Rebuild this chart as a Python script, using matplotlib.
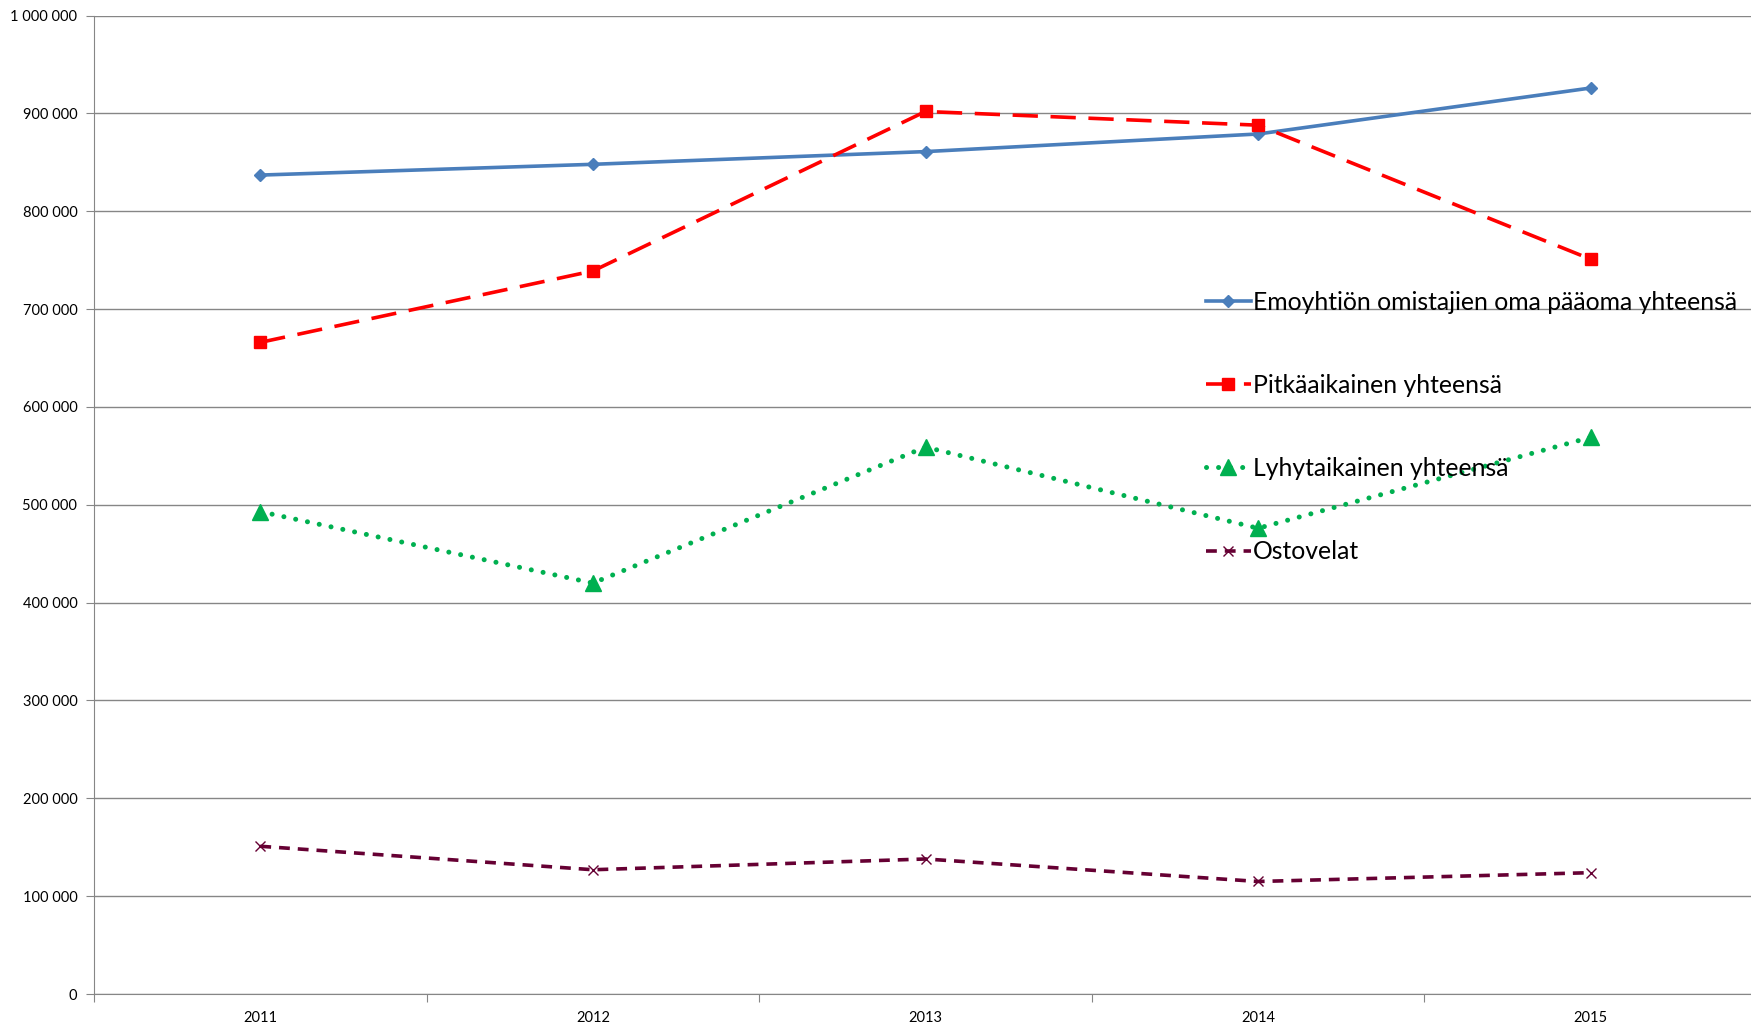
import numpy as np
import matplotlib.pyplot as plt
from matplotlib.ticker import FuncFormatter, FixedLocator

plt.rcParams['font.family'] = ['Lato', 'DejaVu Sans']

# data
years = ['2011', '2012', '2013', '2014', '2015']
emo = [837000, 848000, 861000, 879000, 926000]
pitka = [666000, 739000, 902000, 888000, 751000]
lyhyt = [493000, 420000, 559000, 476000, 569000]
osto = [151000, 127000, 138000, 115000, 124000]
labels = ['Emoyhtiön omistajien oma pääoma yhteensä', 'Pitkäaikainen yhteensä',
          'Lyhytaikainen yhteensä', 'Ostovelat']

fig = plt.figure(figsize=(17.51, 10.25), dpi=100)
ax = fig.add_axes([94 / 1751, 1 - 994 / 1025, 1663 / 1751, (994 - 15.6) / 1025])

x = np.arange(len(years))
ax.plot(x, emo, color='#4a7ebb', lw=2.6, marker='D', ms=6, label=labels[0])
ax.plot(x, pitka, color='#ff0000', lw=2.6, dashes=(7, 3.5), marker='s', ms=8, label=labels[1])
ax.plot(x, lyhyt, color='#00b050', lw=3.6, linestyle=(0, (0.01, 2.4)), dash_capstyle='round',
        marker='^', ms=12, label=labels[2])
ax.plot(x, osto, color='#660033', lw=2.6, dashes=(3, 2.2), marker='x', ms=7, mew=1, label=labels[3])

ax.set_xlim(-0.5, 4.5)
ax.set_ylim(0, 1000000)
ax.set_yticks(np.arange(0, 1000001, 100000))
ax.yaxis.set_major_formatter(FuncFormatter(lambda v, p: '{:,.0f}'.format(v).replace(',', ' ')))
ax.xaxis.set_major_locator(FixedLocator(np.arange(-0.5, 5, 1)))
ax.xaxis.set_minor_locator(FixedLocator(x))
ax.set_xticklabels([])
ax.set_xticklabels(years, minor=True)
ax.tick_params(axis='x', which='major', length=6, color='#868686', direction='out')
ax.tick_params(axis='x', which='minor', length=0, labelsize=10.5, pad=12)
ax.tick_params(axis='y', length=6, color='#868686', labelsize=10.5, pad=6)
ax.grid(axis='y', color='#868686', lw=1)
ax.set_axisbelow(True)
for s in ['top', 'right']:
    ax.spines[s].set_visible(False)
for s in ['left', 'bottom']:
    ax.spines[s].set_color('#868686')

fig.legend(loc='upper left', bbox_to_anchor=(1206 / 1751, 1 - 291 / 1025), frameon=False,
           fontsize=17.8, labelspacing=2.43, handlelength=1.8, handletextpad=0.1,
           borderaxespad=0, borderpad=0)

fig.savefig('out.png', dpi=100)
